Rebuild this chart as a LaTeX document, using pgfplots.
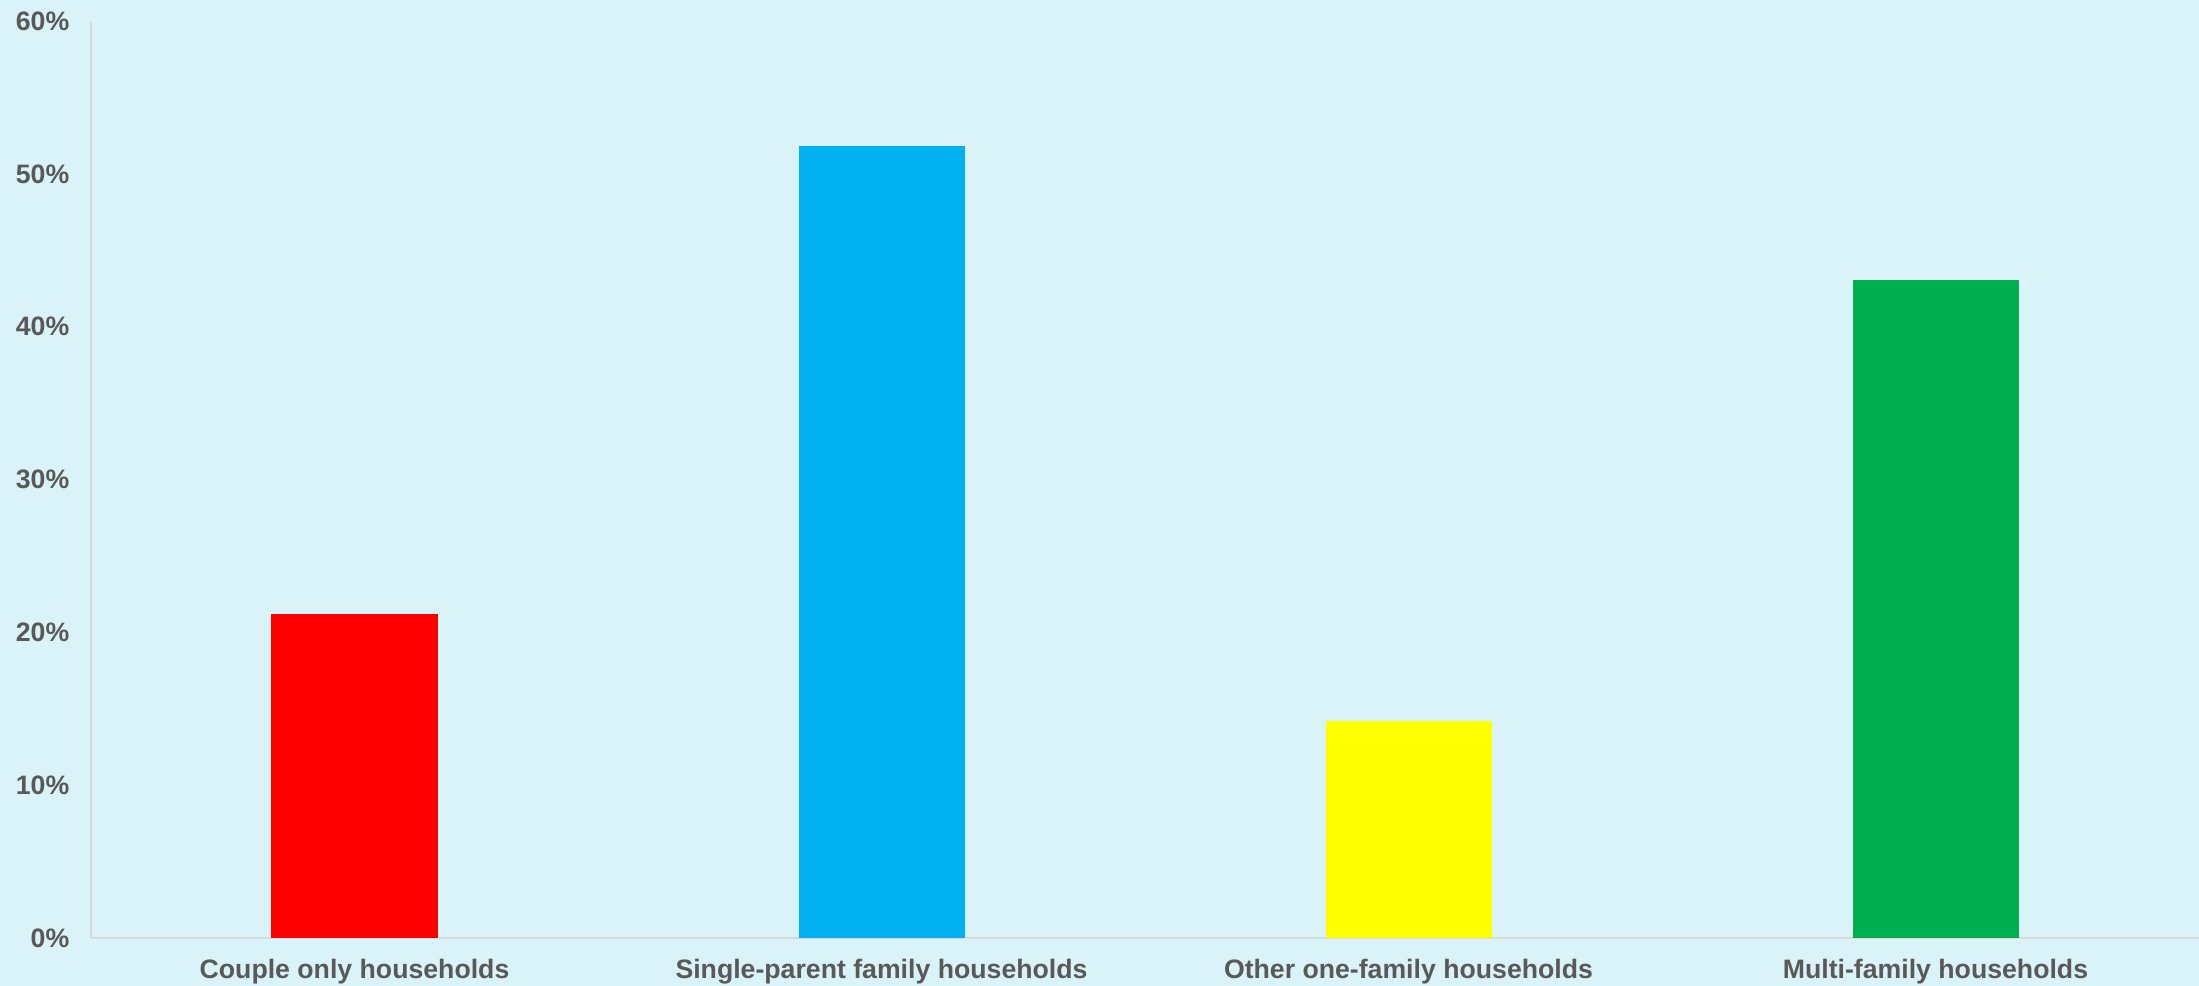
\documentclass[border=0pt]{standalone}
\usepackage{fontspec}
\setmainfont{Liberation Sans}
\usepackage{pgfplots}
\pgfplotsset{compat=1.18}
\definecolor{bgc}{HTML}{DAF3F8}
\definecolor{txt}{HTML}{595959}
\definecolor{axc}{HTML}{D9D9D9}
\definecolor{cred}{HTML}{FF0000}
\definecolor{cblue}{HTML}{00B0F0}
\definecolor{cyellow}{HTML}{FFFF00}
\definecolor{cgreen}{HTML}{00B050}
\begin{document}
\begin{tikzpicture}
\fill[bgc] (-27.3pt,-14.3pt) rectangle (632.4pt,281.5pt);
\useasboundingbox (-27.3pt,-14.3pt) rectangle (632.4pt,281.5pt);
\begin{axis}[
  at={(0,0)}, anchor=south west,
  scale only axis,
  width=632.4pt, height=275.2pt,
  xmin=-0.5, xmax=3.5,
  ymin=0, ymax=60,
  ytick={0,10,20,30,40,50,60},
  yticklabel={\pgfmathprintnumber{\tick}\%},
  xtick={0,1,2,3},
  xticklabels={Couple only households,Single-parent family households,Other one-family households,Multi-family households},
  major tick length=0pt,
  axis x line*=bottom, axis y line*=left,
  axis line style={axc, line width=0.6pt, -},
  tick label style={font=\bfseries\fontsize{8}{9.6}\selectfont, text=txt},
  /pgf/number format/assume math mode=true,
  xticklabel style={yshift=-2.8pt},
  yticklabel style={xshift=-3pt},
  ybar, bar width=49.8pt, bar shift=0pt,
  clip=false,
]
\addplot[fill=cred, draw=none] coordinates {(0,21.2)};
\addplot[fill=cblue, draw=none] coordinates {(1,51.8)};
\addplot[fill=cyellow, draw=none] coordinates {(2,14.2)};
\addplot[fill=cgreen, draw=none] coordinates {(3,43.05)};
\end{axis}
\end{tikzpicture}
\end{document}
